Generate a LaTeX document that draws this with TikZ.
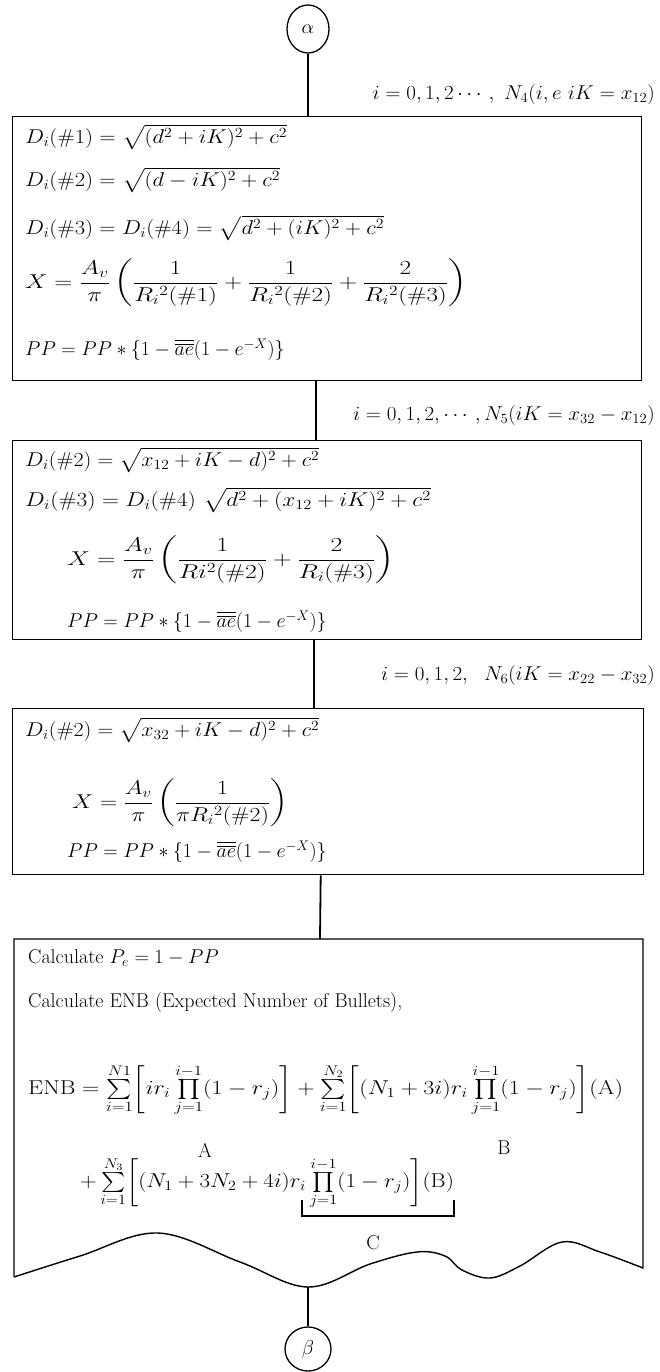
\RequirePackage{fix-cm}
\documentclass[tikz,border=0pt]{standalone}
\usepackage{amsmath,amssymb}
\usepackage{graphicx}
\usepackage{tikz}
\usetikzlibrary{shapes.geometric,calc}

\newcommand{\aebar}{\overline{\overline{ae}}}
\newcommand{\ppline}{$PP=PP\ast\{1-\aebar(1-e^{-X})\}$}
\newcommand{\wider}[2]{\scalebox{#1}[1]{#2}}

\begin{document}
\begin{tikzpicture}[
  x=1pt,y=-1pt,
  font=\fontsize{20}{24}\selectfont,
  endpt/.style={ellipse,draw,line width=1.3pt,inner sep=0pt},
  panel/.style={draw,line width=1.4pt,anchor=north west,inner sep=0pt},
  eqn/.style={anchor=west,inner sep=0pt},
  idxlabel/.style={anchor=east,inner sep=0pt},
  conn/.style={line width=1.8pt}
]
\useasboundingbox (0,0) rectangle (659,1372);

\node[endpt,minimum width=42pt,minimum height=48pt] (alpha) at (308,29) {$\alpha$};
\node[idxlabel] (rng1) at (655,95) {\wider{1.05}{$i=0,1,2\cdots,\ N_4(i,e\ iK=x_{12})$}};
\node[panel,minimum width=629pt,minimum height=264pt] (box1) at (12,116) {};
\node[eqn] (b1l1) at (25,137) {\wider{1.13}{$D_i(\#1)=\sqrt{(d^2+iK)^2+c^2}$}};
\node[eqn] (b1l2) at (25,180) {\wider{1.13}{$D_i(\#2)=\sqrt{(d-iK)^2+c^2}$}};
\node[eqn] (b1l3) at (25,228) {\wider{1.13}{$D_i(\#3)=D_i(\#4)=\sqrt{d^2+(iK)^2+c^2}$}};
\node[eqn] (b1l4) at (25,283) {\wider{1.25}{$X=\dfrac{A_v}{\pi}\left(\dfrac{1}{R_i{}^2(\#1)}+\dfrac{1}{R_i{}^2(\#2)}+\dfrac{2}{R_i{}^2(\#3)}\right)$}};
\node[eqn] (b1l5) at (25,350) {\ppline};

\node[idxlabel] (rng2) at (655,415) {\wider{1.05}{$i=0,1,2,\cdots,N_5(iK=x_{32}-x_{12})$}};
\node[panel,minimum width=629pt,minimum height=199pt] (box2) at (12,440) {};
\node[eqn] (b2l1) at (25,460) {\wider{1.1}{$D_i(\#2)=\sqrt{x_{12}+iK-d)^2+c^2}$}};
\node[eqn] (b2l2) at (25,500) {\wider{1.17}{$D_i(\#3)=D_i(\#4)\ \sqrt{d^2+(x_{12}+iK)^2+c^2}$}};
\node[eqn] (b2l3) at (67,560) {\wider{1.28}{$X=\dfrac{A_v}{\pi}\left(\dfrac{1}{Ri^2(\#2)}+\dfrac{2}{R_i(\#3)}\right)$}};
\node[eqn] (b2l4) at (67,622) {\ppline};

\node[idxlabel] (rng3) at (655,675) {\wider{1.05}{$i=0,1,2,\ \ N_6(iK=x_{22}-x_{32})$}};
\node[panel,minimum width=631pt,minimum height=166pt] (box3) at (12,708) {};
\node[eqn] (b3l1) at (25,730) {\wider{1.1}{$D_i(\#2)=\sqrt{x_{32}+iK-d)^2+c^2}$}};
\node[eqn] (b3l2) at (72,803) {\wider{1.19}{$X=\dfrac{A_v}{\pi}\left(\dfrac{1}{\pi R_i{}^2(\#2)}\right)$}};
\node[eqn] (b3l3) at (67,852) {\ppline};

% last panel, torn bottom edge
\coordinate (b4top) at (320,939);
\coordinate (tear) at (308,1287);
\draw[line width=1.4pt] (14,1277) -- (14,939) -- (643,939) -- (643,1268)
  -- plot[smooth,tension=0.6] coordinates {(643,1268) (600,1252) (562,1242) (520,1266) (490,1278) (462,1270) (445,1256) (417,1252) (370,1264) (308,1287) (240,1262) (158,1233) (80,1256) (14,1277)};
\node[eqn] (b4l1) at (28,958) {Calculate $P_e=1-PP$};
\node[eqn] (b4l2) at (28,1002) {Calculate ENB (Expected Number of Bullets),};
\node[eqn] (b4l3) at (28,1090) {\wider{1.2}{$\mathrm{ENB}=\sum\limits_{i=1}^{N1}\biggl[ir_i\prod\limits_{j=1}^{i-1}(1-r_j)\biggr]+\sum\limits_{i=1}^{N_2}\biggl[(N_1+3i)r_i\prod\limits_{j=1}^{i-1}(1-r_j)\biggr]$(A)}};
\node (partA) at (205,1150) {A};
\node (partB) at (504,1148) {B};
\node[eqn] (b4l4) at (80,1183) {\wider{1.15}{$+\sum\limits_{i=1}^{N_3}\biggl[(N_1+3N_2+4i)r_i\prod\limits_{j=1}^{i-1}(1-r_j)\biggr]$(B)}};
\draw[line width=1.6pt] (b4l4.south -| 302,0) ++(0,-10) -- (302,1216) -- (b4l4.east |- 0,1216) -- (b4l4.east |- 0,1200);
\node (partC) at (373,1243) {C};
\node[endpt,minimum width=46pt,minimum height=44pt] (beta) at (308,1349) {$\beta$};

\draw[conn] (alpha) -- (alpha |- box1.north);
\draw[conn] ([xshift=-11.5pt]box1.south) -- ([xshift=-11.5pt]box1.south |- box2.north);
\draw[conn] ([xshift=-13.5pt]box2.south) -- ([xshift=-13.5pt]box2.south |- box3.north);
\draw[conn] ([xshift=-7.5pt]box3.south) -- (b4top);
\draw[conn] (tear) -- (beta);
\end{tikzpicture}
\end{document}
